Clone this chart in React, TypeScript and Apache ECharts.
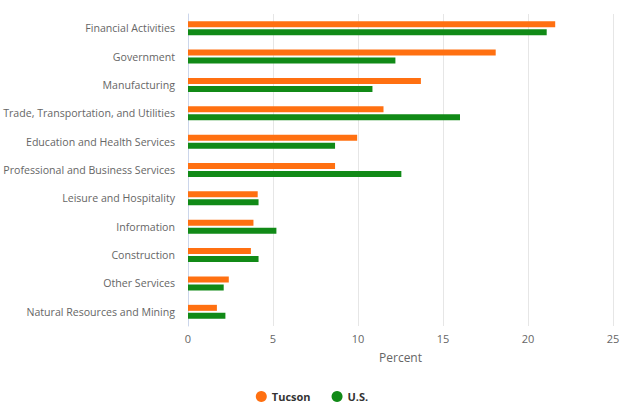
import React, { useEffect, useRef } from "react";
import * as echarts from "echarts";

const categories = [
  "Financial Activities",
  "Government",
  "Manufacturing",
  "Trade, Transportation, and Utilities",
  "Education and Health Services",
  "Professional and Business Services",
  "Leisure and Hospitality",
  "Information",
  "Construction",
  "Other Services",
  "Natural Resources and Mining",
];
const tucson = [21.6, 18.1, 13.7, 11.5, 9.95, 8.65, 4.1, 3.85, 3.7, 2.4, 1.7];
const us = [21.1, 12.2, 10.85, 16.0, 8.65, 12.55, 4.15, 5.2, 4.15, 2.1, 2.2];
const xTicks = [0, 5, 10, 15, 20, 25];

export default function App() {
  const ref = useRef<HTMLDivElement>(null);
  useEffect(() => {
    document.body.style.margin = "0";
    if (!ref.current) return;
    const chart = echarts.init(ref.current, undefined, { renderer: "svg" });
    const font = "'Open Sans', sans-serif";
    chart.setOption({
      animation: false,
      textStyle: { fontFamily: font },
      grid: {
        left: 188,
        right: 11,
        top: 14,
        bottom: 77,
        containLabel: false,
        outerBoundsMode: "none",
      },
      legend: {
        top: 386,
        left: "center",
        icon: "circle",
        itemWidth: 11,
        itemHeight: 11,
        itemGap: 21,
        textStyle: { color: "#333", fontWeight: "bold", fontSize: 11, fontFamily: font },
        data: ["Tucson", "U.S."],
      },
      xAxis: {
        type: "value",
        min: xTicks[0],
        max: xTicks[xTicks.length - 1],
        interval: 5,
        name: "Percent",
        nameLocation: "middle",
        nameGap: 25,
        nameTextStyle: { color: "#666", fontSize: 12, fontFamily: font },
        axisLine: { show: false },
        axisTick: { show: false },
        axisLabel: { color: "#666", fontSize: 11, fontFamily: font, margin: 7 },
        splitLine: { show: true, lineStyle: { color: "#e6e6e6", width: 1 } },
      },
      yAxis: {
        type: "category",
        data: categories,
        inverse: true,
        axisLine: { show: true, lineStyle: { color: "#ccd6eb" } },
        axisTick: { show: false },
        axisLabel: { color: "#666", fontSize: 10.6, fontFamily: font, margin: 13 },
        splitLine: { show: false },
      },
      series: [
        {
          name: "Tucson",
          type: "bar",
          data: tucson,
          barWidth: 6,
          barGap: "33%",
          itemStyle: { color: "#ff7011" },
        },
        {
          name: "U.S.",
          type: "bar",
          data: us,
          barWidth: 6,
          itemStyle: { color: "#118a17" },
        },
      ],
    });
    return () => chart.dispose();
  }, []);
  return <div ref={ref} style={{ width: 624, height: 403 }} />;
}
